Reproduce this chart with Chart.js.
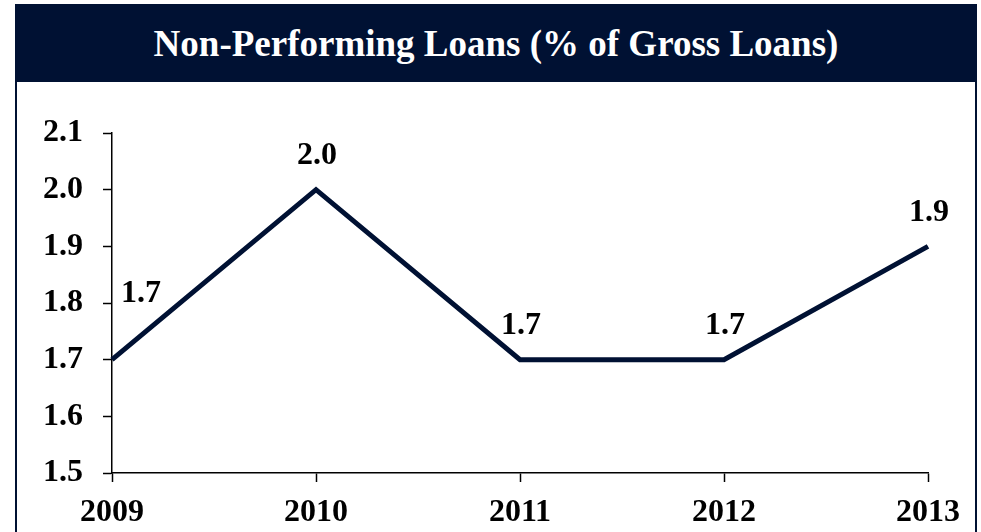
<!DOCTYPE html>
<html>
<head>
<meta charset="utf-8">
<script src="https://cdn.jsdelivr.net/npm/chart.js@4/dist/chart.umd.min.js"></script>
<style>
	body { margin: 0; background: #fff; }
	#frame {
		position: absolute; left: 15px; top: 4px; width: 962px; height: 540px;
		border: 2px solid #001133; border-top: none; box-sizing: border-box;
	}
	#header {
		height: 78px; background: #001133; color: #fff;
		font: bold 37px "Liberation Serif", "Times New Roman", serif;
		display: flex; align-items: center; justify-content: center;
	}
	#wrap { position: absolute; left: 0; top: 0; width: 981px; height: 532px; }
</style>
</head>
<body>
<div id="frame"><div id="header">Non-Performing Loans (% of Gross Loans)</div></div>
<div id="wrap"><canvas id="myChart" width="981" height="532"></canvas></div>
<script>
const years = ["2009", "2010", "2011", "2012", "2013"];
const nplRatio = [1.7, 2.0, 1.7, 1.7, 1.9];

const navy = "#001133";
const font = {family: "'Liberation Serif', 'Times New Roman', serif", size: 32, weight: "bold"};

// value labels above each point; the first one sits off to the right of the axis
const valueLabels = {
	id: "valueLabels",
	afterDatasetsDraw(chart) {
		const ctx = chart.ctx;
		const meta = chart.getDatasetMeta(0);
		ctx.save();
		ctx.font = `bold ${font.size}px ${font.family}`;
		ctx.fillStyle = "#000";
		ctx.textAlign = "center";
		ctx.textBaseline = "middle";
		meta.data.forEach((pt, i) => {
			const dx = i === 0 ? 29 : 1;
			const dy = i === 0 ? -66 : -34;
			ctx.fillText(nplRatio[i].toFixed(1), pt.x + dx, pt.y + dy);
		});
		ctx.restore();
	}
};

const ctx = document.getElementById("myChart").getContext("2d");
new Chart(ctx, {
	type: "line",
	data: {
		labels: years,
		datasets: [{
			data: nplRatio,
			borderColor: navy,
			borderWidth: 5,
			pointRadius: 0,
			tension: 0
		}]
	},
	options: {
		responsive: false,
		animation: false,
		layout: {padding: {top: 133, right: 53, left: 0, bottom: 0}},
		plugins: {legend: {display: false}, tooltip: {enabled: false}},
		scales: {
			x: {
				offset: false,
				grid: {drawOnChartArea: false, tickLength: 9, color: "#000", tickWidth: 1.5},
				border: {color: "#000", width: 1.5},
				ticks: {font, color: "#000", padding: 12, maxRotation: 0},
				afterFit: scale => { scale.height = 59; }
			},
			y: {
				min: 1.5,
				max: 2.1,
				grid: {drawOnChartArea: false, tickLength: 9, color: "#000", tickWidth: 1.5},
				border: {color: "#000", width: 1.5},
				ticks: {
					stepSize: 0.1, font, color: "#000", padding: 20,
					callback: v => Number(v).toFixed(1)
				},
				afterFit: scale => { scale.width = 112; }
			}
		}
	},
	plugins: [valueLabels]
});
</script>
</body>
</html>
